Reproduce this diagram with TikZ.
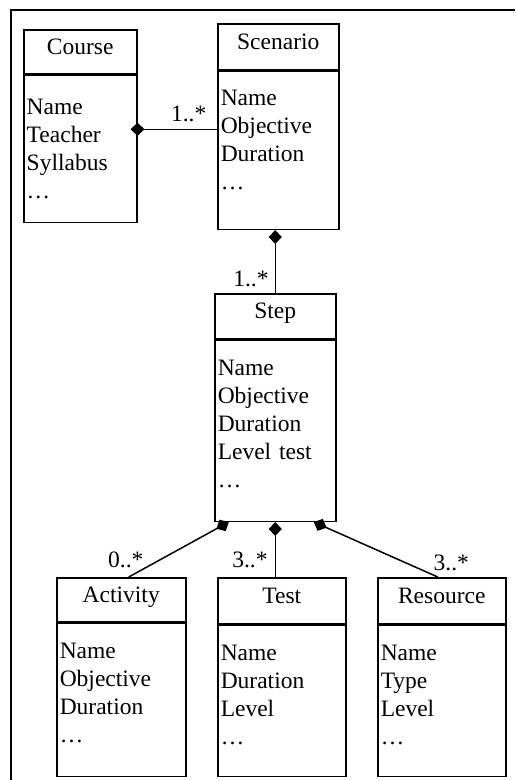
\documentclass[tikz,border=0pt]{standalone}
\usepackage{fontspec}
\setmainfont{Liberation Serif}
\usetikzlibrary{positioning,arrows.meta}

% attribute list of a class: [gap above first line]{height}{lines}
\newcommand{\attrlist}[3][20pt]{\parbox[c][#2][t]{\linewidth}{\vspace*{#1}#3}}

\begin{document}
\begin{tikzpicture}[x=1pt,y=-1pt,
	font=\fontsize{23.5}{28}\selectfont,
	classhead/.style={draw,line width=1.5pt,anchor=north west,inner sep=0pt,
		text height=15pt,text depth=10pt},
	classbody/.style={draw,line width=1.5pt,inner xsep=3pt,inner ysep=0pt},
	part/.style={line width=1.5pt,{Diamond[length=14pt,width=13pt]}-},
	mult/.style={inner sep=0pt}]
	\useasboundingbox (0,0) rectangle (515,780);
	% frame
	\draw[line width=1.7pt] (11,780) -- (11,10) -- (515,10);
	% top row
	\node[classhead,minimum width=113pt,minimum height=44pt] (course) at (23,29) {Course};
	\node[classbody,below=0pt of course,text width=107pt] (coursebody)
		{\attrlist[24pt]{147pt}{Name\\Teacher\\Syllabus\\\ldots}};
	\node[classhead,minimum width=121pt,minimum height=46pt] (scenario) at (217,23) {Scenario};
	\node[classbody,below=0pt of scenario,text width=115pt] (scenariobody)
		{\attrlist[19pt]{158pt}{Name\\Objective\\Duration\\\ldots}};
	% middle
	\node[classhead,minimum width=121pt,minimum height=45pt] (step) at (214,293) {Step};
	\node[classbody,below=0pt of step,text width=115pt] (stepbody)
		{\attrlist{181pt}{Name\\Objective\\Duration\\Level test\\\ldots}};
	% bottom row
	\node[classhead,minimum width=129pt,minimum height=44pt] (activity) at (56,577) {Activity};
	\node[classbody,below=0pt of activity,text width=123pt] (activitybody)
		{\attrlist{153pt}{Name\\Objective\\Duration\\\ldots}};
	\node[classhead,minimum width=128pt,minimum height=46pt] (test) at (217,577) {Test};
	\node[classbody,below=0pt of test,text width=122pt] (testbody)
		{\attrlist{151pt}{Name\\Duration\\Level\\\ldots}};
	\node[classhead,minimum width=128pt,minimum height=46pt] (resource) at (377,577) {Resource};
	\node[classbody,below=0pt of resource,text width=122pt] (resourcebody)
		{\attrlist{151pt}{Name\\Type\\Level\\\ldots}};
	% compositions
	\draw[part,shorten <=-7pt] ([yshift=19.5pt]coursebody.east)
		-- node[mult,pos=1,above left=7pt and 10pt] {1..*} ([yshift=19.5pt]coursebody.east -| scenariobody.west);
	\draw[part] (step.north |- scenariobody.south)
		-- node[mult,pos=1,above left=5pt and 6pt] {1..*} (step.north);
	\draw[part] ([xshift=-46.5pt]stepbody.south)
		-- node[mult,pos=1,above=8pt,xshift=-3pt] {0..*} ([xshift=7.5pt]activity.north);
	\draw[part] (stepbody.south)
		-- node[mult,pos=1,above left=8pt and 7pt] {3..*} (stepbody.south |- test.north);
	\draw[part] ([xshift=38.5pt]stepbody.south)
		-- node[mult,pos=1,above=5pt,xshift=13.5pt] {3..*} ([xshift=-4pt]resource.north);
\end{tikzpicture}
\end{document}
